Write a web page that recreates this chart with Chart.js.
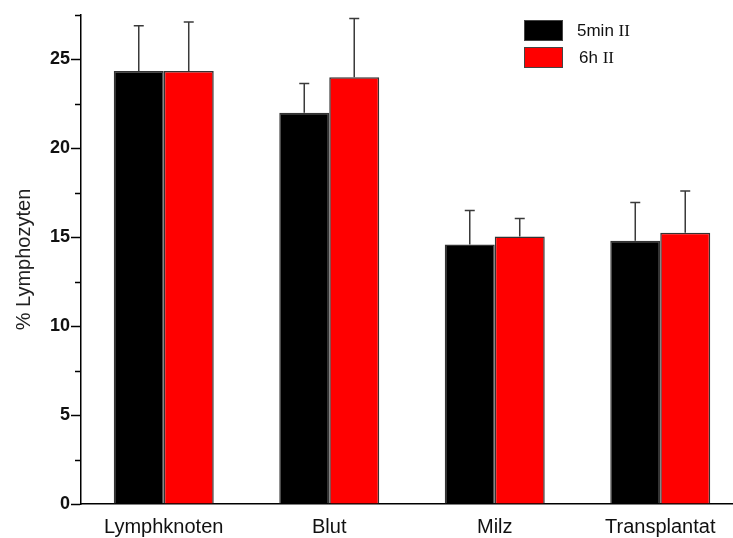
<!DOCTYPE html>
<html>
<head>
<meta charset="utf-8">
<script src="https://cdn.jsdelivr.net/npm/chart.js@4/dist/chart.umd.min.js"></script>
<style>
html,body{margin:0;padding:0;background:#fff;overflow:hidden;}
#wrap{width:760px;height:538px;}
</style>
</head>
<body>
<div id="wrap"><canvas id="c" width="760" height="538"></canvas></div>
<script>
// ---- data ----
const categories = ['Lymphknoten', 'Blut', 'Milz', 'Transplantat'];
const seriesLabels = ['5min II', '6h II'];
const mean5min = [24.35, 22.0, 14.6, 14.8];
const err5min  = [2.55, 1.65, 1.9, 2.15];
const mean6h   = [24.35, 24.0, 15.05, 15.25];
const err6h    = [2.75, 3.3, 1.0, 2.35];
const yTicksMajor = [0, 5, 10, 15, 20, 25];
const yMin = 0, yMax = 27.5, yStep = 2.5;

const errorBars = {
  id: 'errorBars',
  afterDatasetsDraw(chart) {
    const ctx = chart.ctx;
    const ys = chart.scales.y;
    chart.data.datasets.forEach((ds, i) => {
      const meta = chart.getDatasetMeta(i);
      meta.data.forEach((el, j) => {
        const top = ys.getPixelForValue(ds.data[j] + ds.errors[j]);
        ctx.save();
        ctx.strokeStyle = '#3a3a3a';
        ctx.lineWidth = 1.5;
        ctx.beginPath();
        ctx.moveTo(el.x, el.y);
        ctx.lineTo(el.x, top);
        ctx.moveTo(el.x - 5, top);
        ctx.lineTo(el.x + 5, top);
        ctx.stroke();
        ctx.restore();
      });
    });
  }
};

const minorTicks = {
  id: 'minorTicks',
  afterDraw(chart) {
    const ctx = chart.ctx;
    const ys = chart.scales.y;
    const x = chart.chartArea.left;
    ctx.save();
    ctx.strokeStyle = '#000';
    ctx.lineWidth = 1.5;
    ys.ticks.forEach(t => {
      if (!yTicksMajor.includes(t.value)) {
        const y = Math.round(ys.getPixelForValue(t.value)) + 0.5;
        ctx.beginPath();
        ctx.moveTo(x - 6, y);
        ctx.lineTo(x, y);
        ctx.stroke();
      }
    });
    ctx.restore();
  }
};

const customLegend = {
  id: 'customLegend',
  afterDraw(chart) {
    const ctx = chart.ctx;
    const bx = 524, bw = 39, bh = 21;
    const rows = [20, 47];
    chart.data.datasets.forEach((ds, i) => {
      const y = rows[i];
      ctx.save();
      ctx.fillStyle = ds.backgroundColor;
      ctx.fillRect(bx, y, bw, bh);
      ctx.strokeStyle = '#444';
      ctx.lineWidth = 1;
      ctx.strokeRect(bx + 0.5, y + 0.5, bw - 1, bh - 1);
      const parts = ds.label.split(' ');
      ctx.fillStyle = '#111';
      ctx.textBaseline = 'middle';
      ctx.font = '17px "Liberation Sans", Arial, sans-serif';
      let tx = i === 0 ? 577 : 579;
      ctx.fillText(parts[0] + ' ', tx, y + bh / 2 + 1);
      tx += ctx.measureText(parts[0] + ' ').width;
      ctx.font = '17px "Liberation Serif", "Times New Roman", serif';
      ctx.fillText(parts.slice(1).join(' '), tx, y + bh / 2 + 1);
      ctx.restore();
    });
  }
};

new Chart(document.getElementById('c'), {
  type: 'bar',
  data: {
    labels: categories,
    datasets: [
      { label: seriesLabels[0], data: mean5min, errors: err5min,
        backgroundColor: '#000000', borderColor: '#333333', borderWidth: 1.5,
        categoryPercentage: 0.604, barPercentage: 1.0 },
      { label: seriesLabels[1], data: mean6h, errors: err6h,
        backgroundColor: '#ff0000', borderColor: '#333333', borderWidth: 1.5,
        categoryPercentage: 0.604, barPercentage: 1.0 }
    ]
  },
  options: {
    responsive: false,
    devicePixelRatio: 1,
    animation: false,
    layout: { padding: { top: 15, right: 17, bottom: 0, left: 0 } },
    plugins: { legend: { display: false }, tooltip: { enabled: false } },
    scales: {
      x: {
        grid: { display: false, drawTicks: false },
        border: { display: true, color: '#000', width: 1.5 },
        ticks: { color: '#111', font: { family: '"Liberation Sans", Arial, sans-serif', size: 20 }, padding: 11 },
        afterFit(s) { s.height = 34; }
      },
      y: {
        min: yMin, max: yMax,
        grid: { display: true, drawOnChartArea: false, drawTicks: true, tickLength: 10,
                tickWidth: 1.5,
                tickColor: c => (c.tick && yTicksMajor.includes(c.tick.value)) ? '#000' : 'rgba(0,0,0,0)' },
        border: { display: true, color: '#000', width: 1.5 },
        ticks: {
          stepSize: yStep, autoSkip: false, padding: 1, color: '#111',
          font: { family: '"Liberation Sans", Arial, sans-serif', size: 18, weight: 'bold' },
          callback: v => yTicksMajor.includes(v) ? String(v) : ''
        },
        title: { display: true, text: '% Lymphozyten', color: '#222',
                 font: { family: '"Liberation Sans", Arial, sans-serif', size: 20 },
                 padding: { top: 12, bottom: 0 } },
        afterFit(s) { s.width = 81; }
      }
    }
  },
  plugins: [errorBars, minorTicks, customLegend]
});
</script>
</body>
</html>
